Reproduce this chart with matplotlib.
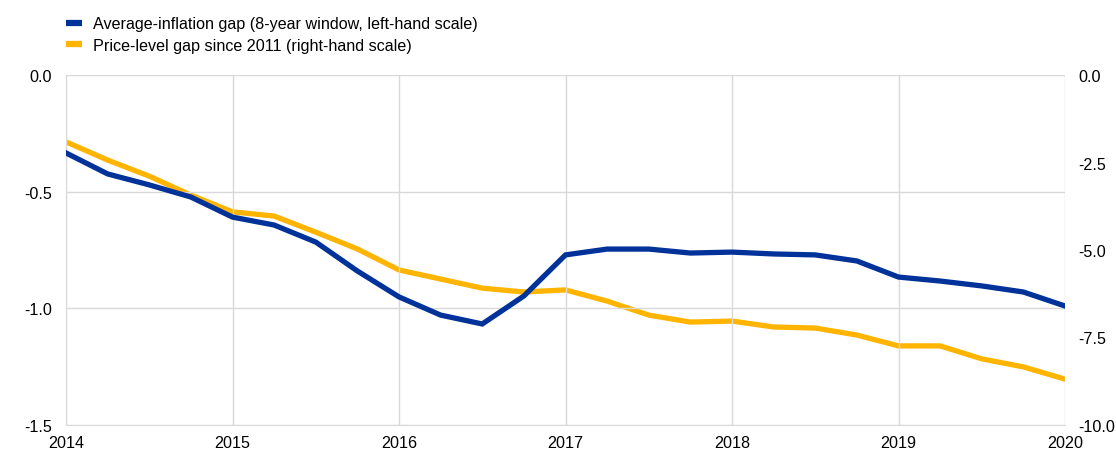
import matplotlib
matplotlib.use("Agg")
import matplotlib.pyplot as plt
from matplotlib.lines import Line2D
import numpy as np

plt.rcParams['font.family'] = ['Liberation Sans', 'DejaVu Sans']

# quarterly observations, 2014Q1 .. 2020Q1
dates = np.arange(2014, 2020.01, 0.25)

avg_inflation_gap = [-0.334, -0.424, -0.471, -0.523, -0.609, -0.643, -0.716, -0.840,
                     -0.951, -1.029, -1.067, -0.947, -0.771, -0.746, -0.746, -0.763,
                     -0.759, -0.767, -0.771, -0.797, -0.866, -0.883, -0.904, -0.930,
                     -0.990]
price_level_gap = [-1.91, -2.43, -2.89, -3.43, -3.91, -4.03, -4.49, -4.97,
                   -5.57, -5.83, -6.09, -6.20, -6.14, -6.46, -6.86, -7.06,
                   -7.03, -7.20, -7.23, -7.43, -7.74, -7.74, -8.11, -8.34,
                   -8.69]

left_ticks = [-1.5, -1.0, -0.5, 0.0]
right_ticks = [-10.0, -7.5, -5.0, -2.5, 0.0]
year_ticks = [2014, 2015, 2016, 2017, 2018, 2019, 2020]

blue = '#003299'
yellow = '#FFB400'
grid_col = '#D9D9D9'
fs = 11.6

W, H = 1116, 452
fig = plt.figure(figsize=(W / 100, H / 100), dpi=100)
ax = fig.add_axes([66 / W, 1 - 426 / H, (1065 - 66) / W, (426 - 76) / H])
ax2 = ax.twinx()

ax.plot(dates, avg_inflation_gap, color=blue, lw=3.8, solid_joinstyle='miter', zorder=3)
ax2.plot(dates, price_level_gap, color=yellow, lw=3.8, solid_joinstyle='miter', zorder=2)
ax.set_zorder(ax2.get_zorder() + 1)
ax.patch.set_visible(False)

ax.set_xlim(2014, 2020)
ax.set_ylim(-1.5, 0.0)
ax2.set_ylim(-10.0, 0.0)
ax.set_xticks(year_ticks)
ax.set_xticklabels([str(y) for y in year_ticks])
ax.set_yticks(left_ticks)
ax.set_yticklabels([f'{v:.1f}' for v in left_ticks])
ax2.set_yticks(right_ticks)
ax2.set_yticklabels([f'{v:.1f}' for v in right_ticks])

ax.grid(True, color=grid_col, lw=1.0)
ax.set_axisbelow(True)
for a in (ax, ax2):
    for s in a.spines.values():
        s.set_visible(False)
    a.tick_params(length=0, labelsize=fs, colors='black')
ax.spines['left'].set_visible(True)
ax.spines['left'].set_color(grid_col)
ax.spines['bottom'].set_visible(True)
ax.spines['bottom'].set_color(grid_col)
ax.tick_params(axis='y', pad=10)
ax.tick_params(axis='x', pad=7)
ax2.tick_params(axis='y', pad=9.5)

handles = [Line2D([], [], color=blue, lw=4.5, solid_capstyle='butt'),
           Line2D([], [], color=yellow, lw=4.5, solid_capstyle='butt')]
fig.legend(handles,
           ['Average-inflation gap (8-year window, left-hand scale)',
            'Price-level gap since 2011 (right-hand scale)'],
           loc='upper left', bbox_to_anchor=(60 / W, 1 - 11 / H), frameon=False,
           fontsize=fs, handlelength=0.95, handletextpad=0.7, labelspacing=0.4,
           borderaxespad=0)

fig.savefig('out.png', dpi=100)
